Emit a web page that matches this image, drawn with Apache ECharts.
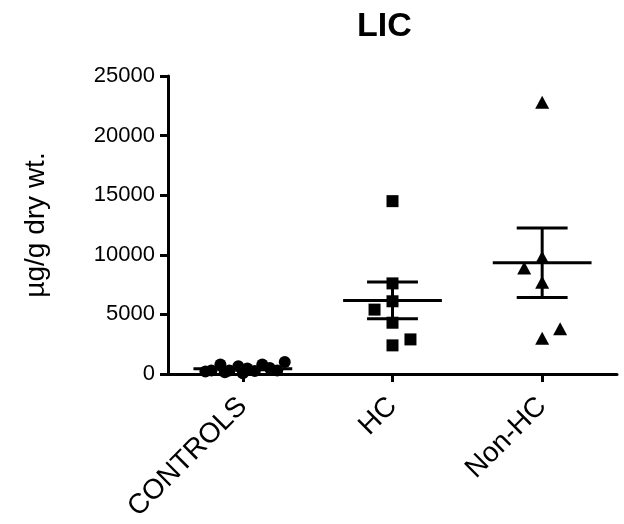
<!DOCTYPE html>
<html>
<head>
<meta charset="utf-8">
<script src="https://cdn.jsdelivr.net/npm/echarts@6/dist/echarts.min.js"></script>
<style>
html,body{margin:0;padding:0;background:#fff;}
#main{width:624px;height:524px;}
</style>
</head>
<body>
<div id="main"></div>
<script>
// 分组名称
var categories = ['CONTROLS', 'HC', 'Non-HC'];
var yTicks = [0, 5000, 10000, 15000, 20000, 25000];

// 每组的数值 (µg/g dry wt.)
var controlsVals = [200, 300, 800, 150, 300, 650, 50, 450, 250, 800, 500, 300, 1000];
var hcVals = [14500, 7600, 6100, 5400, 4300, 2900, 2400];
var nonHcVals = [22800, 9800, 8900, 7700, 3800, 3000];

// 散点横向错开（以分类宽度为单位）
var controlsJitter = [-0.25, -0.21, -0.15, -0.12, -0.09, -0.03, 0, 0.03, 0.08, 0.13, 0.18, 0.23, 0.28];
var hcJitter = [0, 0, 0, -0.12, 0, 0.12, 0];
var nonHcJitter = [0, 0, -0.12, 0, 0.12, 0];

var FONT = 'Liberation Sans, Arial, sans-serif';

function toPoints(g, vals, jit) {
    var arr = [];
    for (var i = 0; i < vals.length; i++) {
        arr.push([g + jit[i], vals[i]]);
    }
    return arr;
}

// 均值 ± 标准误
function meanSem(g, vals) {
    var n = vals.length, s = 0, ss = 0;
    for (var i = 0; i < n; i++) s += vals[i];
    var m = s / n;
    for (var j = 0; j < n; j++) ss += (vals[j] - m) * (vals[j] - m);
    var sem = Math.sqrt(ss / (n - 1)) / Math.sqrt(n);
    return [g, m, m - sem, m + sem];
}

var statData = [
    meanSem(0, controlsVals),
    meanSem(1, hcVals),
    meanSem(2, nonHcVals)
];

function renderStat(params, api) {
    var g = api.value(0);
    var m = api.value(1), lo = api.value(2), hi = api.value(3);
    var st = {stroke: '#000', lineWidth: 3};
    function seg(x1, y1, x2, y2) {
        var a = api.coord([x1, y1]), b = api.coord([x2, y2]);
        return {type: 'line', shape: {x1: a[0], y1: a[1], x2: b[0], y2: b[1]}, style: st};
    }
    return {
        type: 'group',
        children: [
            seg(g - 0.33, m, g + 0.33, m),
            seg(g - 0.17, lo, g + 0.17, lo),
            seg(g - 0.17, hi, g + 0.17, hi),
            seg(g, lo, g, hi)
        ]
    };
}

var myChart = echarts.init(document.getElementById('main'));
var option = {
    animation: false,
    backgroundColor: '#fff',
    title: {
        text: 'LIC',
        left: 352,
        top: 5,
        textStyle: {fontFamily: FONT, fontSize: 34, fontWeight: 'bold', color: '#000'}
    },
    grid: {left: 168, right: 7, top: 76, bottom: 147},
    xAxis: [{
        type: 'category',
        data: categories,
        axisLine: {show: true, lineStyle: {color: '#000', width: 3}},
        axisTick: {show: true, alignWithLabel: true, interval: 0, inside: false, length: 8,
            lineStyle: {color: '#000', width: 3}},
        axisLabel: {rotate: 45, interval: 0, fontFamily: FONT, fontSize: 28, color: '#000', margin: 28}
    }, {
        type: 'value',
        min: -0.5,
        max: 2.5,
        show: false
    }],
    yAxis: {
        type: 'value',
        min: yTicks[0],
        max: yTicks[yTicks.length - 1],
        interval: 5000,
        name: 'µg/g dry wt.',
        nameLocation: 'middle',
        nameGap: 118,
        nameTextStyle: {fontFamily: FONT, fontSize: 28, color: '#000'},
        axisLine: {show: true, onZero: false, lineStyle: {color: '#000', width: 3}},
        axisTick: {show: true, length: 8, lineStyle: {color: '#000', width: 3}},
        axisLabel: {fontFamily: FONT, fontSize: 22, color: '#000', margin: 13,
            formatter: function (v) { return String(v); }},
        splitLine: {show: false}
    },
    series: [{
        type: 'scatter',
        xAxisIndex: 1,
        symbol: 'circle',
        symbolSize: 12,
        itemStyle: {color: '#000', opacity: 1},
        data: toPoints(0, controlsVals, controlsJitter)
    }, {
        type: 'scatter',
        xAxisIndex: 1,
        symbol: 'rect',
        symbolSize: 12,
        itemStyle: {color: '#000', opacity: 1},
        data: toPoints(1, hcVals, hcJitter)
    }, {
        type: 'scatter',
        xAxisIndex: 1,
        symbol: 'triangle',
        symbolSize: [14, 13],
        itemStyle: {color: '#000', opacity: 1},
        data: toPoints(2, nonHcVals, nonHcJitter)
    }, {
        type: 'custom',
        xAxisIndex: 1,
        renderItem: renderStat,
        data: statData,
        z: 3
    }]
};
myChart.setOption(option);
</script>
</body>
</html>
